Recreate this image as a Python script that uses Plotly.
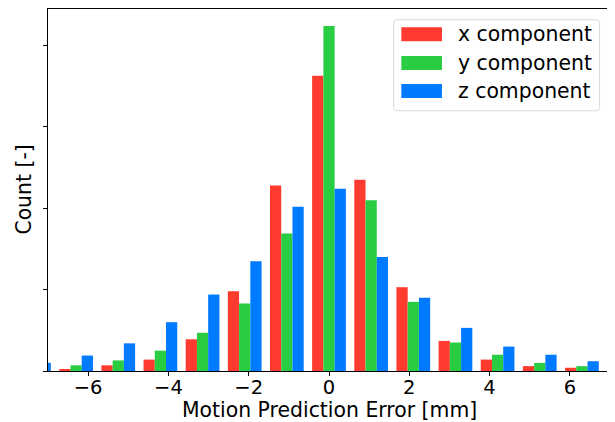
import plotly.graph_objects as go

# Histogram bin centres (mm) and counts per component
bin_centers = [-7.35, -6.3, -5.25, -4.2, -3.15, -2.1, -1.05, 0.0,
               1.05, 2.1, 3.15, 4.2, 5.25, 6.3, 7.35]
x_counts = [1, 2, 7, 14, 39, 98, 228, 363, 235, 103, 37, 14, 6, 4, 2]
y_counts = [2, 7, 13, 25, 47, 83, 169, 424, 210, 85, 35, 20, 10, 6, 1]
z_counts = [10, 19, 34, 60, 94, 135, 202, 224, 140, 90, 53, 30, 20, 12, 2]

series_names = ["x component", "y component", "z component"]
series_colors = ["#FF3B30", "#28CD41", "#007AFF"]
x_ticks = [-6, -4, -2, 0, 2, 4, 6]
y_ticks = [0, 100, 200, 300, 400]

FONT = "DejaVu Sans"
FS = 20.4

fig = go.Figure()
for name, vals, col in zip(series_names, [x_counts, y_counts, z_counts], series_colors):
    fig.add_trace(go.Bar(x=bin_centers, y=vals, name=name,
                         marker=dict(color=col, line=dict(width=0)),
                         showlegend=False))

# manual legend (matplotlib style)
shapes = []
x0, x1, y0, y1 = 0.615, 0.9815, 0.719, 0.9704
rx, ry = 0.006, 0.009
path = (f"M {x0+rx},{y1} L {x1-rx},{y1} Q {x1},{y1} {x1},{y1-ry} "
        f"L {x1},{y0+ry} Q {x1},{y0} {x1-rx},{y0} L {x0+rx},{y0} "
        f"Q {x0},{y0} {x0},{y0+ry} L {x0},{y1-ry} Q {x0},{y1} {x0+rx},{y1} Z")
shapes.append(dict(type="path", xref="paper", yref="paper", path=path,
                   line=dict(color="#d9d9d9", width=1),
                   fillcolor="rgba(255,255,255,0.8)", layer="above"))
row_y = [0.930, 0.8508, 0.7735]
annotations = []
for name, col, ry_ in zip(series_names, series_colors, row_y):
    shapes.append(dict(type="rect", xref="paper", yref="paper",
                       x0=0.6287, x1=0.701, y0=ry_ - 0.0193, y1=ry_ + 0.0193,
                       fillcolor=col, line=dict(width=0), layer="above"))
    annotations.append(dict(xref="paper", yref="paper", x=0.7253, y=ry_,
                            xanchor="left", yanchor="middle", showarrow=False,
                            text=name, font=dict(family=FONT, size=FS, color="black")))

# axis titles
annotations.append(dict(xref="paper", yref="paper", x=0.5, y=-0.1077,
                        xanchor="center", yanchor="middle", showarrow=False,
                        borderpad=0,
                        text="Motion Prediction Error [mm]",
                        font=dict(family=FONT, size=FS, color="black")))
annotations.append(dict(xref="paper", yref="paper", x=-0.0434, y=0.5,
                        xanchor="center", yanchor="middle", showarrow=False,
                        textangle=-90, text="Count [-]",
                        font=dict(family=FONT, size=FS, color="black")))

# page body adds an 8px offset, so the figure is sized to fit the window
fig.update_layout(
    width=607, height=414,
    margin=dict(l=40, r=5, t=1, b=51, autoexpand=False),
    paper_bgcolor="white", plot_bgcolor="white",
    barmode="group", bargap=0.2, bargroupgap=0,
    font=dict(family=FONT, size=FS, color="black"),
    shapes=shapes, annotations=annotations,
    xaxis=dict(range=[-7, 7], tickvals=x_ticks, ticks="outside", ticklen=4,
               tickwidth=1, tickcolor="black", showline=True, linecolor="black",
               linewidth=1, mirror=True, showgrid=False, zeroline=False,
               automargin=False, ticklabelstandoff=-5,
               tickfont=dict(family=FONT, size=19.5)),
    yaxis=dict(range=[0, 445], tickvals=y_ticks, ticks="outside", ticklen=4,
               tickwidth=1, tickcolor="black", showticklabels=False,
               showline=True, linecolor="black", linewidth=1, mirror=True,
               showgrid=False, zeroline=False, automargin=False),
)

fig.write_html("out.html")
